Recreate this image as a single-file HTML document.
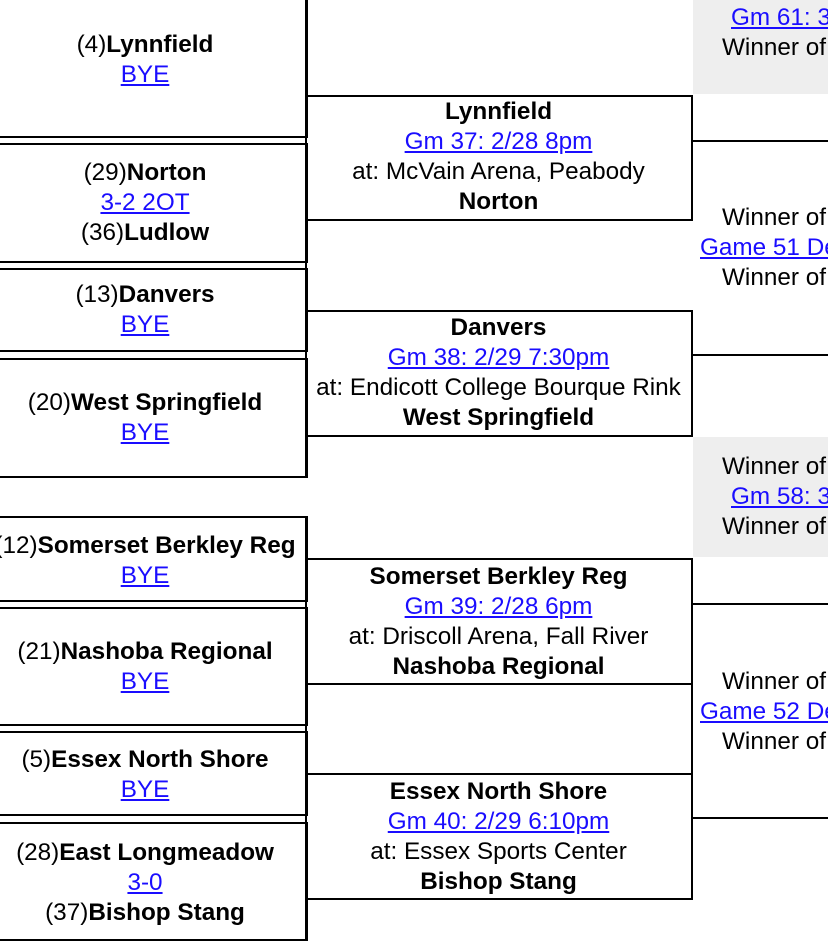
<!DOCTYPE html>
<html><head><meta charset="utf-8"><style>
html,body{margin:0;padding:0;width:828px;height:941px;overflow:hidden;background:#fff;font-family:"Liberation Sans",Arial,sans-serif;font-size:24.3px;color:#000}
#w{position:relative;width:828px;height:941px;overflow:hidden}
.b{position:absolute;box-sizing:border-box;border-top:2px solid #000;border-bottom:2px solid #000;border-right:2px solid #000;text-align:center;line-height:30px;white-space:nowrap}
.l{left:0;width:308px}
.l .in{margin-left:-16px}
.m{left:306px;width:387px}
a{color:#1a0dff;text-decoration:underline}
b{font-weight:bold}
.r{position:absolute;left:693px;width:135px;overflow:hidden}
.t{position:absolute;white-space:nowrap;line-height:30px}
.h{position:absolute;left:692px;width:136px;height:2px;background:#000}
.v{position:absolute;width:2px;background:#000}
.g{position:absolute;left:693px;width:135px;background:#eee}
</style></head><body><div id="w">
<div class="g" style="top:0;height:94px"></div>
<div class="g" style="top:437px;height:120px"></div>

<div class="b l" style="top:-10px;height:148px;padding-top:38px"><div class="in">(4)<b>Lynnfield</b><br><a>BYE</a></div></div>
<div class="b l" style="top:143px;height:120px;padding-top:13px"><div class="in">(29)<b>Norton</b><br><a>3-2 2OT</a><br>(36)<b>Ludlow</b></div></div>
<div class="b l" style="top:268px;height:84px;padding-top:10px"><div class="in">(13)<b>Danvers</b><br><a>BYE</a></div></div>
<div class="b l" style="top:358px;height:120px;padding-top:28px"><div class="in">(20)<b>West Springfield</b><br><a>BYE</a></div></div>
<div class="b l" style="top:516px;height:86px;padding-top:13px"><div class="in">(12)<b>Somerset Berkley Reg</b><br><a>BYE</a></div></div>
<div class="b l" style="top:607px;height:119px;padding-top:28px"><div class="in">(21)<b>Nashoba Regional</b><br><a>BYE</a></div></div>
<div class="b l" style="top:731px;height:85px;padding-top:12px"><div class="in">(5)<b>Essex North Shore</b><br><a>BYE</a></div></div>
<div class="b l" style="top:822px;height:119px;padding-top:14px"><div class="in">(28)<b>East Longmeadow</b><br><a>3-0</a><br>(37)<b>Bishop Stang</b></div></div>
<div class="v" style="left:305px;top:0;height:478px"></div>
<div class="v" style="left:305px;top:516px;height:425px"></div>

<div class="b m" style="top:95px;height:126px;padding-top:0px"><b>Lynnfield</b><br><a>Gm 37: 2/28 8pm</a><br>at: McVain Arena, Peabody<br><b>Norton</b></div>
<div class="b m" style="top:310px;height:127px;padding-top:1px"><b>Danvers</b><br><a>Gm 38: 2/29 7:30pm</a><br>at: Endicott College Bourque Rink<br><b>West Springfield</b></div>
<div class="b m" style="top:558px;height:127px;padding-top:2px"><b>Somerset Berkley Reg</b><br><a>Gm 39: 2/28 6pm</a><br>at: Driscoll Arena, Fall River<br><b>Nashoba Regional</b></div>
<div class="b m" style="top:773px;height:127px;padding-top:2px"><b>Essex North Shore</b><br><a>Gm 40: 2/29 6:10pm</a><br>at: Essex Sports Center<br><b>Bishop Stang</b></div>
<div class="v" style="left:691px;top:559px;height:340px"></div>

<div class="h" style="top:140px"></div>
<div class="h" style="top:354px"></div>
<div class="h" style="top:603px"></div>
<div class="h" style="top:817px"></div>

<div class="r" style="top:0;height:941px">
<div class="t" style="left:38px;top:3px"><a>Gm 61: 3/2</a></div>
<div class="t" style="left:29px;top:33px">Winner of</div>
<div class="t" style="left:29px;top:203px">Winner of</div>
<div class="t" style="left:7px;top:233px"><a>Game 51 Details</a></div>
<div class="t" style="left:29px;top:263px">Winner of</div>
<div class="t" style="left:29px;top:452px">Winner of</div>
<div class="t" style="left:38px;top:482px"><a>Gm 58: 3/1</a></div>
<div class="t" style="left:29px;top:512px">Winner of</div>
<div class="t" style="left:29px;top:667px">Winner of</div>
<div class="t" style="left:7px;top:697px"><a>Game 52 Details</a></div>
<div class="t" style="left:29px;top:727px">Winner of</div>
</div>
</div></body></html>
